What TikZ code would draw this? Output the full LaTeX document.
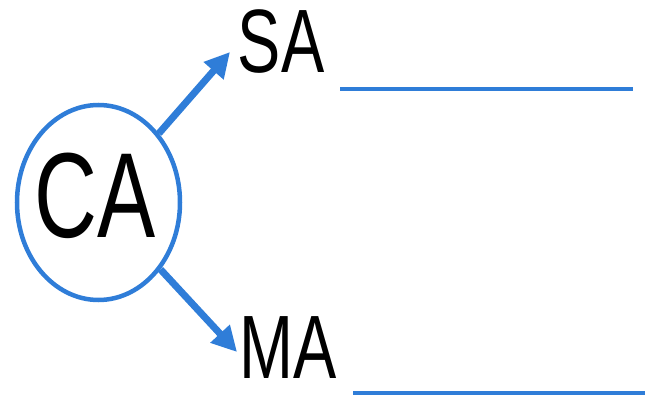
\documentclass[tikz,border=0pt]{standalone}
\usepackage{fontspec}
\newfontfamily\narrowsans[FakeStretch=0.72]{Liberation Sans}
\usetikzlibrary{arrows.meta}
\usetikzlibrary{shapes}
\tikzset{>={Triangle[width=25pt,length=25pt]}}
\definecolor{penblue}{HTML}{2F7DD8}

\begin{document}
\begin{tikzpicture}[x=1pt, y=-1pt,
  bigtext/.style={font=\narrowsans\fontsize{121}{121}\selectfont, inner sep=0pt, anchor=base},
  abbr/.style={font=\narrowsans\fontsize{90}{90}\selectfont, inner sep=0pt, anchor=base},
  blank/.style={penblue, line width=4.5pt}]

\useasboundingbox (0,0) rectangle (658,401); %% page size

\node[ellipse, draw=penblue, line width=4.5pt, inner sep=0pt,
  minimum width=163pt, minimum height=195pt] (ca) at (98.5,202.5) {};
\node[bigtext] (catxt) at (95.5,237) {CA};

\node[abbr] (sa) at (281,73) {SA};
\node[abbr] (ma) at (288.5,378) {MA};

\coordinate (satip) at (230,52);
\coordinate (matip) at (237,352);
\draw[->, penblue, line width=7pt] (ca) -- (satip);
\draw[->, penblue, line width=7pt] (ca) -- (matip);

%% lines to fill in
\draw[blank] (340,89) -- (633,89);
\draw[blank] (353,393) -- (645,393);

\end{tikzpicture}
\end{document}
